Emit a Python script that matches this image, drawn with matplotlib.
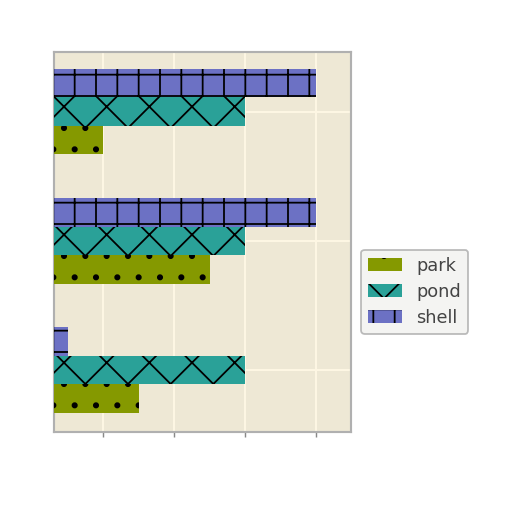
import numpy as np
import matplotlib
matplotlib.use('Agg')
import matplotlib.pyplot as plt

# ── data (three groups, bottom to top) ───────────────────────────────────────
groups = ['A', 'B', 'C']
park = [1.5, 2.5, 1.0]
pond = [3.0, 3.0, 3.0]
shell = [0.5, 4.0, 4.0]

SERIES = [
    ('park', park, '#859900', '.'),
    ('pond', pond, '#2aa198', 'x'),
    ('shell', shell, '#6c71c4', '+'),
]

plt.rcParams['hatch.color'] = 'black'
plt.rcParams['hatch.linewidth'] = 1.0

fig = plt.figure(figsize=(4, 4), dpi=128, facecolor='white')
ax = fig.add_axes([0.1055, 0.156, 0.58, 0.742])
ax.set_facecolor('#eee8d5')

y = np.arange(len(groups))
h = 0.22
for i, (name, vals, col, hatch) in enumerate(SERIES):
    ax.barh(y + (i - 1) * h, vals, height=h, color=col, hatch=hatch,
            edgecolor='black', linewidth=0, label=name, zorder=3)

ax.set_xlim(0.31, 4.49)
ax.set_ylim(-0.48, 2.46)
ax.set_xticks([1, 2, 3, 4])
ax.set_yticks(y)
ax.set_yticklabels(groups)
ax.grid(True, color='#fdf6e3', linewidth=1.2, zorder=0)
ax.set_axisbelow(True)
ax.tick_params(axis='x', colors='#888888', labelcolor='white', length=3)
ax.tick_params(axis='y', length=0, labelcolor='white')
for sp in ax.spines.values():
    sp.set_color('#b0b0b0')
    sp.set_linewidth(1.2)

leg = fig.legend(loc='upper left', bbox_to_anchor=(0.688, 0.53),
                 fontsize=10, frameon=True, fancybox=True, shadow=False,
                 handlelength=1.9, labelcolor='#444444', labelspacing=0.45)
leg.get_frame().set_facecolor('#f2f2ef')
leg.get_frame().set_edgecolor('#aaaaaa')

fig.savefig('out.png', dpi=128, facecolor='white')
